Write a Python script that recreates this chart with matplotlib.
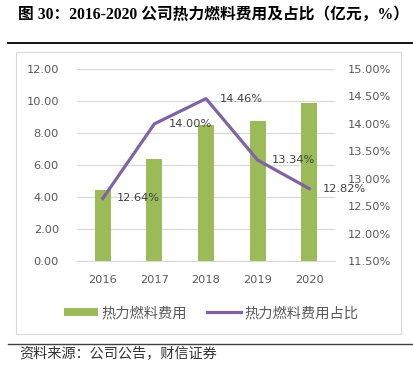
import matplotlib
matplotlib.use("Agg")
from matplotlib import pyplot as plt
from matplotlib.lines import Line2D
from matplotlib.patches import Rectangle
from matplotlib.ticker import FuncFormatter

plt.rcParams['font.family'] = ['DejaVu Sans', 'Noto Sans CJK SC']

# %% data
years = ['2016', '2017', '2018', '2019', '2020']
fuel_cost = [4.42, 6.35, 8.52, 8.75, 9.88]  # 亿元
fuel_ratio = [12.64, 14.00, 14.46, 13.34, 12.82]  # %
left_ticks = [0, 2, 4, 6, 8, 10, 12]
right_ticks = [11.5, 12.0, 12.5, 13.0, 13.5, 14.0, 14.5, 15.0]

title = '图 30：2016-2020 公司热力燃料费用及占比（亿元，%）'
source = '资料来源：公司公告，财信证券'
bar_name = '热力燃料费用'
line_name = '热力燃料费用占比'

green = '#9BBB59'
purple = '#8064A2'
grey_txt = '#595959'

# %% figure
fig = plt.figure(figsize=(4.14, 3.74), dpi=100)
W, H = 414, 374


def fx(px):
    return px / W


def fy(py):
    return 1 - py / H


fig.text(fx(18), fy(15), title, fontsize=11.3, fontweight='bold',
         family=['Liberation Serif', 'Noto Sans CJK SC'], va='center')
fig.add_artist(Line2D([fx(8), fx(414)], [fy(43), fy(43)], color='black',
                      lw=1.3, transform=fig.transFigure))
fig.add_artist(Rectangle((fx(16), fy(334)), fx(401) - fx(16), fy(52) - fy(334),
                         transform=fig.transFigure, fill=False,
                         edgecolor='#D9D9D9', lw=0.8))
fig.add_artist(Line2D([fx(8), fx(414)], [fy(344), fy(344)], color='#404040',
                      lw=1.0, transform=fig.transFigure))
fig.text(fx(19), fy(354), source, fontsize=10.2, style='italic',
         family=['Noto Sans CJK SC'], va='center', color='#333333')

ax = fig.add_axes([fx(77), fy(261), fx(335) - fx(77), fy(69) - fy(261)])
x = list(range(len(years)))
bars = ax.bar(x, fuel_cost, width=0.31, color=green, zorder=2, label=bar_name)
ax.set_xlim(-0.5, 4.5)
ax.set_ylim(0, 12)
ax.set_yticks(left_ticks)
ax.yaxis.set_major_formatter(FuncFormatter(lambda v, p: '%.2f' % v))
ax.set_xticks(x)
ax.set_xticklabels(years)
ax.grid(axis='y', color='#D9D9D9', lw=0.9, zorder=0)
for s in ax.spines.values():
    s.set_visible(False)
ax.spines['bottom'].set_visible(True)
ax.spines['bottom'].set_color('#D9D9D9')
ax.tick_params(axis='y', length=0, pad=13, labelsize=8.2, labelcolor=grey_txt)
ax.tick_params(axis='x', length=0, pad=10, labelsize=8.2, labelcolor=grey_txt)

ax2 = ax.twinx()
ax2.plot(x, fuel_ratio, color=purple, lw=2.3, zorder=3, label=line_name)
ax2.set_ylim(11.5, 15.0)
ax2.set_yticks(right_ticks)
ax2.yaxis.set_major_formatter(FuncFormatter(lambda v, p: '%.2f%%' % v))
for s in ax2.spines.values():
    s.set_visible(False)
ax2.tick_params(axis='y', length=0, pad=9, labelsize=8.2, labelcolor=grey_txt)
for xi, v in zip(x, fuel_ratio):
    ax2.annotate('%.2f%%' % v, (xi, v), xytext=(10, 0),
                 textcoords='offset points', va='center', ha='left',
                 fontsize=8.2, color='#404040')

handles = [bars, Line2D([], [], color=purple, lw=2.3)]
fig.legend(handles, [bar_name, line_name], loc='center',
           bbox_to_anchor=(fx(211), fy(313)), ncol=2, frameon=False,
           prop={'family': ['Noto Sans CJK SC'], 'size': 10.3},
           labelcolor=grey_txt, handlelength=2.4, handleheight=0.5,
           handletextpad=0.2, columnspacing=1.4)

fig.savefig('out.png', dpi=100)
